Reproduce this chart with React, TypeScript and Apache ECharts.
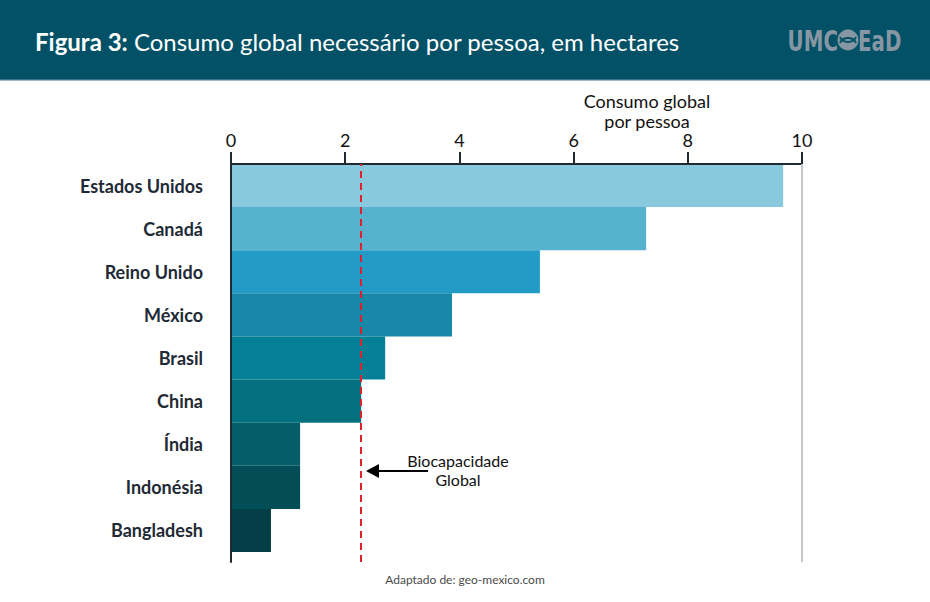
import React, { useEffect, useRef } from 'react';
import * as echarts from 'echarts';

const categories = ['Estados Unidos', 'Canadá', 'Reino Unido', 'México', 'Brasil', 'China', 'Índia', 'Indonésia', 'Bangladesh'];
const consumo = [9.67, 7.27, 5.41, 3.87, 2.7, 2.28, 1.21, 1.21, 0.7];
const barColors = ['#88c9de', '#56b2cf', '#229bc6', '#1887a8', '#037f96', '#03707f', '#045e6a', '#034d57', '#043f47'];
const xMin = 0;
const xMax = 10;
const xInterval = 2;
const biocapacidadeGlobal = 2.28;
const titleBold = 'Figura 3:';
const titleRest = ' Consumo global necessário por pessoa, em hectares';
const axisName = 'Consumo global\npor pessoa';
const annotation = 'Biocapacidade\nGlobal';
const source = 'Adaptado de: geo-mexico.com';

const FONT = 'Lato, "Noto Sans", sans-serif';
const LOGO_FONT = '"DejaVu Sans Condensed", "DejaVu Sans", sans-serif';
const HEADER = '#035166';
const LOGO = '#8796a3';

export default function App() {
  const ref = useRef<HTMLDivElement>(null);
  useEffect(() => {
    document.body.style.margin = '0';
    const chart = echarts.init(ref.current!, null, { renderer: 'svg' });
    const option: any = {
      animation: false,
      backgroundColor: '#ffffff',
      grid: [
        { left: 231, right: 128, top: 164, height: 388 },
        { left: 231, right: 128, top: 164, height: 398 },
      ],
      xAxis: [
        { gridIndex: 0, type: 'value', min: xMin, max: xMax, show: false },
        {
          gridIndex: 1, type: 'value', position: 'top', min: xMin, max: xMax, interval: xInterval, z: 3,
          axisLine: { show: true, onZero: false, lineStyle: { color: '#1f2a33', width: 2 } },
          axisTick: { show: true, length: 12, lineStyle: { color: '#1f2a33', width: 2 } },
          axisLabel: { fontFamily: FONT, fontSize: 18, color: '#111111', margin: 15 },
          splitLine: { show: false },
        },
      ],
      yAxis: [
        {
          gridIndex: 0, type: 'category', inverse: true, data: categories,
          axisLine: { show: false }, axisTick: { show: false },
          axisLabel: { fontFamily: FONT, fontWeight: 'bold', fontSize: 18, color: '#1e2a35', margin: 28 },
        },
        {
          gridIndex: 1, type: 'value', min: 0, max: 1, z: 3,
          axisLine: { show: true, onZero: false, lineStyle: { color: '#1f2a33', width: 2 } },
          axisTick: { show: false }, axisLabel: { show: false }, splitLine: { show: false },
        },
      ],
      series: [
        {
          type: 'bar', xAxisIndex: 0, yAxisIndex: 0, barCategoryGap: 0,
          data: consumo.map((v, i) => ({ value: v, itemStyle: { color: barColors[i] } })),
        },
        {
          type: 'line', xAxisIndex: 1, yAxisIndex: 1, data: [],
          markLine: {
            silent: true, symbol: 'none', label: { show: false },
            data: [
              { xAxis: xMax, lineStyle: { color: '#c6c6c6', width: 2, type: 'solid' } },
              { xAxis: biocapacidadeGlobal, lineStyle: { color: '#e0202a', width: 2, type: [7, 5] } },
            ],
          },
        },
      ],
      graphic: [
        { type: 'rect', left: 0, top: 0, shape: { x: 0, y: 0, width: 930, height: 80 }, style: { fill: HEADER }, z: 10 },
        { type: 'rect', left: 0, top: 79, shape: { x: 0, y: 0, width: 930, height: 1.5 }, style: { fill: '#3a7486' }, z: 10 },
        {
          type: 'text', x: 35, y: 41, z: 11,
          style: {
            text: `{b|${titleBold}}{r|${titleRest}}`, verticalAlign: 'middle',
            rich: {
              b: { fontFamily: FONT, fontSize: 24, fontWeight: 'bold', fill: '#ffffff' },
              r: { fontFamily: FONT, fontSize: 24, fill: '#ffffff' },
            },
          },
        },
        { type: 'text', x: 838, y: 41, z: 11, scaleX: 0.76, style: { text: 'UMC', align: 'right', verticalAlign: 'middle', fontFamily: LOGO_FONT, fontWeight: 'bold', fontSize: 29, fill: LOGO } },
        { type: 'circle', shape: { cx: 848, cy: 40, r: 10.5 }, style: { fill: LOGO }, z: 11 },
        { type: 'arc', shape: { cx: 848, cy: 47, r: 9, startAngle: Math.PI * 1.15, endAngle: Math.PI * 1.85 }, style: { stroke: HEADER, lineWidth: 2, fill: null }, z: 12 },
        { type: 'arc', shape: { cx: 848, cy: 33, r: 9, startAngle: Math.PI * 0.15, endAngle: Math.PI * 0.85 }, style: { stroke: HEADER, lineWidth: 2, fill: null }, z: 12 },
        { type: 'text', x: 858, y: 41, z: 11, scaleX: 0.76, style: { text: 'EaD', align: 'left', verticalAlign: 'middle', fontFamily: LOGO_FONT, fontWeight: 'bold', fontSize: 29, fill: LOGO } },
        { type: 'text', x: 647, y: 111, z: 5, style: { text: axisName, align: 'center', verticalAlign: 'middle', fontFamily: FONT, fontSize: 18, lineHeight: 20, fill: '#111111' } },
        { type: 'text', x: 458, y: 470, z: 5, style: { text: annotation, align: 'center', verticalAlign: 'middle', fontFamily: FONT, fontSize: 16, lineHeight: 19, fill: '#111111' } },
        { type: 'line', shape: { x1: 376, y1: 471, x2: 428, y2: 471 }, style: { stroke: '#000000', lineWidth: 2 }, z: 5 },
        { type: 'polygon', shape: { points: [[366, 471], [379, 464], [379, 478]] }, style: { fill: '#000000' }, z: 5 },
        { type: 'text', x: 465, y: 579, z: 5, style: { text: source, align: 'center', verticalAlign: 'middle', fontFamily: FONT, fontSize: 12, fill: '#4a4a4a' } },
      ],
    };
    chart.setOption(option);
    return () => chart.dispose();
  }, []);
  return <div ref={ref} style={{ position: 'fixed', left: 0, top: 0, width: 930, height: 602 }} />;
}
